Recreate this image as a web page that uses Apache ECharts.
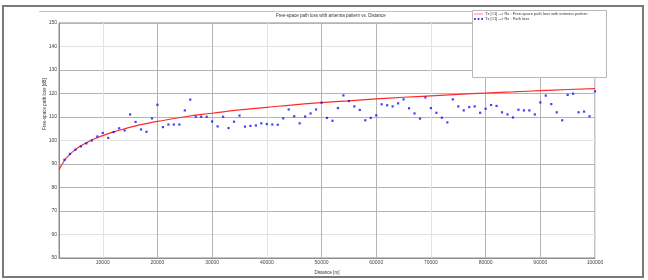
<!DOCTYPE html>
<html>
<head>
<meta charset="utf-8">
<script src="https://cdn.jsdelivr.net/npm/echarts@6/dist/echarts.min.js"></script>
<style>html,body{margin:0;padding:0;background:#fff}#c{width:648px;height:280px}</style>
</head>
<body>
<div id="c"></div>
<script>
// Free-space path loss curve (distance in m, loss in dB)
const fsplDist = [2000, 3000, 4000, 5000, 6000, 7000, 8000, 9000, 10000, 12000, 14000, 16000, 18000, 20000,
  25000, 30000, 35000, 40000, 45000, 50000, 55000, 60000, 65000, 70000, 75000, 80000, 85000, 90000, 95000, 100000];
const fsplLoss = [87.5, 91.5, 94.1, 96.1, 97.7, 99.0, 100.2, 101.2, 102.1, 103.7, 105.0, 106.2, 107.2, 108.1,
  110.1, 111.6, 113.0, 114.1, 115.2, 116.1, 116.9, 117.7, 118.4, 119.0, 119.6, 120.2, 120.7, 121.2, 121.7, 122.1];

// Path loss samples
const plDist = [
  3000, 4000, 5000, 6000, 7000, 8000, 9000, 10000,
  11000, 12000, 13000, 14000, 15000, 16000, 17000, 18000, 19000, 20000,
  21000, 22000, 23000, 24000, 25000, 26000, 27000, 28000, 29000, 30000,
  31000, 32000, 33000, 34000, 35000, 36000, 37000, 38000, 39000, 40000,
  41000, 42000, 43000, 44000, 45000, 46000, 47000, 48000, 49000, 50000,
  51000, 52000, 53000, 54000, 55000, 56000, 57000, 58000, 59000, 60000,
  61000, 62000, 63000, 64000, 65000, 66000, 67000, 68000, 69000, 70000,
  71000, 72000, 73000, 74000, 75000, 76000, 77000, 78000, 79000, 80000,
  81000, 82000, 83000, 84000, 85000, 86000, 87000, 88000, 89000, 90000,
  91000, 92000, 93000, 94000, 95000, 96000, 97000, 98000, 99000, 100000];
const plLoss = [
  91.8, 94.3, 96.1, 97.5, 98.8, 100.0, 101.7, 103.2,
  101.1, 103.6, 105.2, 104.3, 111.1, 107.9, 104.7, 103.7, 109.4, 115.2,
  105.7, 106.8, 106.8, 106.8, 112.8, 117.4, 110.1, 110.1, 110.1, 108.1,
  106.0, 110.1, 105.3, 108.0, 110.6, 105.9, 106.2, 106.4, 107.3, 107.0,
  106.8, 106.7, 109.4, 113.2, 110.3, 107.3, 110.2, 111.5, 113.2, 116.1,
  109.6, 108.4, 113.8, 119.2, 116.8, 114.5, 113.0, 108.6, 109.6, 110.7,
  115.4, 115.0, 114.5, 115.8, 117.5, 113.7, 111.5, 109.3, 118.3, 113.8,
  111.8, 109.7, 107.7, 117.5, 114.5, 112.8, 114.2, 114.5, 111.8, 113.5,
  115.1, 114.7, 112.0, 111.1, 109.8, 113.1, 112.8, 112.8, 111.1, 116.2,
  119.1, 115.5, 112.0, 108.6, 119.4, 119.9, 112.0, 112.3, 110.3, 120.9];

const seriesNames = ['Tx [#1] --> Rx : Free-space path loss with antenna pattern', 'Tx [#1] --> Rx : Path loss'];
const chartTitle = 'Free-space path loss with antenna pattern vs. Distance';
const xName = 'Distance [m]';
const yName = 'Free-space path loss [dB]';

const FONT = 'Liberation Sans, Arial, sans-serif';
const DARK = '#b4b4b4', LIGHT = '#e2e2e2';

const chart = echarts.init(document.getElementById('c'), null, {renderer: 'canvas'});
chart.setOption({
  animation: false,
  backgroundColor: '#fff',
  textStyle: {fontFamily: FONT},
  title: {
    text: chartTitle, left: 276, top: 13, padding: 0,
    textStyle: {fontSize: 4.5, fontWeight: 'normal', color: '#333', fontFamily: FONT}
  },
  legend: {
    left: 474, top: 12, orient: 'vertical', itemGap: 1, padding: 0, z: 10,
    itemWidth: 9, itemHeight: 3,
    textStyle: {fontSize: 4, color: '#333', fontFamily: FONT, padding: [0, 0, 0, -3]},
    data: [
      {name: seriesNames[0], icon: 'path://M0,0h10v1.2h-10z', itemStyle: {color: '#ff8c8c'}},
      {name: seriesNames[1], icon: 'path://M0,0h2v2h-2zM4,0h2v2h-2zM8,0h2v2h-2z', itemStyle: {color: '#1010ff'}}
    ]
  },
  grid: {left: 59, right: 53, top: 23, bottom: 22, show: true, borderColor: '#8c8c8c', borderWidth: 1, containLabel: false},
  xAxis: {
    type: 'value', min: 2000, max: 100000, splitNumber: 10,
    name: xName, nameLocation: 'middle', nameGap: 10,
    nameTextStyle: {fontSize: 4.5, color: '#333', fontFamily: FONT},
    axisLine: {show: true, lineStyle: {color: '#8c8c8c'}},
    axisTick: {show: false},
    axisLabel: {fontSize: 5, color: '#444', margin: 2, showMinLabel: false, fontFamily: FONT,
      formatter: v => String(v)},
    splitLine: {show: true, lineStyle: {color: [DARK, LIGHT, DARK], width: 1}}
  },
  yAxis: {
    type: 'value', min: 50, max: 150, interval: 10,
    axisLine: {show: true, lineStyle: {color: '#8c8c8c'}},
    axisTick: {show: false},
    axisLabel: {fontSize: 5, color: '#444', margin: 2, fontFamily: FONT},
    splitLine: {show: true, lineStyle: {color: [DARK, LIGHT, DARK, DARK], width: 1}}
  },
  graphic: [
    {type: 'rect', z: 100, silent: true, shape: {x: 3, y: 6, width: 640, height: 271},
     style: {fill: 'none', stroke: '#7a7a7a', lineWidth: 2}},
    {type: 'line', z: 1, silent: true, shape: {x1: 39, y1: 11.5, x2: 472, y2: 11.5},
     style: {stroke: '#c4c4c4', lineWidth: 1}},
    {type: 'rect', z: 5, silent: true, shape: {x: 472.5, y: 10.5, width: 134, height: 67},
     style: {fill: '#fff', stroke: '#b8b8b8', lineWidth: 1}},
    {type: 'text', z: 10, silent: true, x: 45, y: 104, rotation: Math.PI / 2,
     style: {text: yName, fontSize: 4.5, fill: '#333', fontFamily: FONT, align: 'center', verticalAlign: 'middle'}}
  ],
  series: [
    {
      name: seriesNames[0], type: 'line', showSymbol: false, symbol: 'none', smooth: true, z: 3,
      lineStyle: {color: '#ff2a2a', width: 1.2},
      itemStyle: {color: '#ff2a2a'},
      data: fsplDist.map((d, i) => [d, fsplLoss[i]])
    },
    {
      name: seriesNames[1], type: 'scatter', symbol: 'rect', symbolSize: 2.2, z: 4,
      itemStyle: {color: '#1010ff'},
      data: plDist.map((d, i) => [d, plLoss[i]])
    }
  ]
});
</script>
</body>
</html>
